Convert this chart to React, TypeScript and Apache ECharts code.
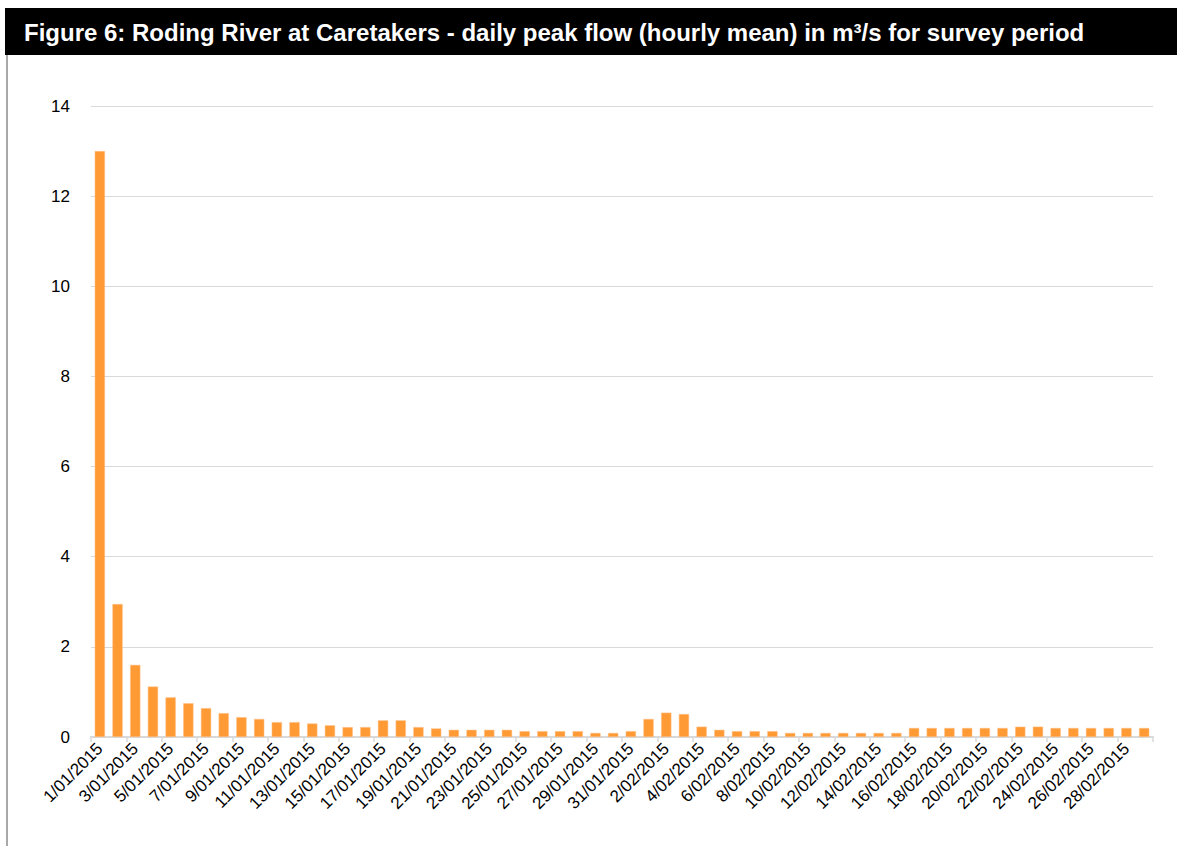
import React, { useEffect, useRef } from "react";
import * as echarts from "echarts";

const TITLE = "Figure 6: Roding River at Caretakers - daily peak flow (hourly mean) in m³/s for survey period";

const categories = [
  "1/01/2015", "2/01/2015", "3/01/2015", "4/01/2015", "5/01/2015", "6/01/2015", "7/01/2015", "8/01/2015", "9/01/2015", "10/01/2015",
  "11/01/2015", "12/01/2015", "13/01/2015", "14/01/2015", "15/01/2015", "16/01/2015", "17/01/2015", "18/01/2015", "19/01/2015", "20/01/2015",
  "21/01/2015", "22/01/2015", "23/01/2015", "24/01/2015", "25/01/2015", "26/01/2015", "27/01/2015", "28/01/2015", "29/01/2015", "30/01/2015",
  "31/01/2015", "1/02/2015", "2/02/2015", "3/02/2015", "4/02/2015", "5/02/2015", "6/02/2015", "7/02/2015", "8/02/2015", "9/02/2015",
  "10/02/2015", "11/02/2015", "12/02/2015", "13/02/2015", "14/02/2015", "15/02/2015", "16/02/2015", "17/02/2015", "18/02/2015", "19/02/2015",
  "20/02/2015", "21/02/2015", "22/02/2015", "23/02/2015", "24/02/2015", "25/02/2015", "26/02/2015", "27/02/2015", "28/02/2015", "1/03/2015",
];

const peakFlow = [
  13.0, 2.95, 1.6, 1.12, 0.88, 0.75, 0.64, 0.53, 0.44, 0.4,
  0.33, 0.33, 0.3, 0.26, 0.22, 0.22, 0.37, 0.37, 0.22, 0.19,
  0.16, 0.16, 0.16, 0.16, 0.13, 0.13, 0.13, 0.13, 0.09, 0.09,
  0.13, 0.4, 0.54, 0.51, 0.23, 0.16, 0.13, 0.13, 0.13, 0.09,
  0.09, 0.09, 0.09, 0.09, 0.09, 0.09, 0.2, 0.2, 0.2, 0.2,
  0.2, 0.2, 0.23, 0.23, 0.2, 0.2, 0.2, 0.2, 0.2, 0.2,
];

const yMin = 0;
const yMax = 14;
const yStep = 2;

const FONT = 'Arial, "Liberation Sans", Helvetica, sans-serif';

export default function App() {
  const ref = useRef<HTMLDivElement>(null);

  useEffect(() => {
    if (!ref.current) return;
    const chart = echarts.init(ref.current, undefined, { renderer: "svg" });
    chart.setOption({
      animation: false,
      backgroundColor: "#ffffff",
      textStyle: { fontFamily: FONT },
      graphic: [
        {
          type: "rect",
          shape: { x: 5, y: 8, width: 1172, height: 47 },
          style: { fill: "#000000" },
          silent: true,
        },
        {
          type: "text",
          x: 24,
          y: 32,
          style: {
            text: TITLE,
            fill: "#ffffff",
            font: `bold 24px ${FONT}`,
            verticalAlign: "middle",
            align: "left",
          },
          silent: true,
        },
        {
          type: "line",
          shape: { x1: 7, y1: 55, x2: 7, y2: 846 },
          style: { stroke: "#8c8c8c", lineWidth: 1.5 },
          silent: true,
        },
      ],
      grid: { left: 91, right: 24, top: 106, bottom: 109, containLabel: false },
      xAxis: {
        type: "category",
        data: categories,
        boundaryGap: true,
        axisLine: { show: true, lineStyle: { color: "#d9d9d9", width: 2 } },
        axisTick: { show: true, interval: 1, length: 5, lineStyle: { color: "#d9d9d9", width: 1.5 } },
        axisLabel: {
          interval: 1,
          rotate: 45,
          fontSize: 17,
          color: "#000000",
          fontFamily: FONT,
          margin: 9,
        },
        splitLine: { show: false },
      },
      yAxis: {
        type: "value",
        min: yMin,
        max: yMax,
        interval: yStep,
        axisLine: { show: false },
        axisTick: { show: false },
        axisLabel: { fontSize: 17, color: "#000000", fontFamily: FONT, margin: 21 },
        splitLine: { show: true, lineStyle: { color: "#d9d9d9", width: 1 } },
      },
      series: [
        {
          type: "bar",
          data: peakFlow,
          barCategoryGap: "42%",
          itemStyle: { color: "#ff9a35", borderColor: "#ffc58f", borderWidth: 0.5 },
        },
      ],
    });
    return () => chart.dispose();
  }, []);

  return (
    <div
      ref={ref}
      style={{ position: "absolute", left: 0, top: 0, width: 1177, height: 846 }}
    />
  );
}
